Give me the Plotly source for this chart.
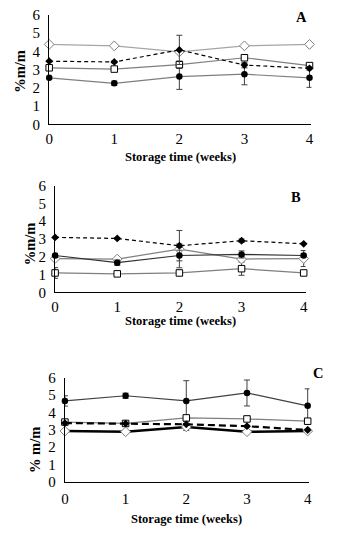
import plotly.graph_objects as go

W, H = 339, 542
weeks = [0, 1, 2, 3, 4]
x_ticks = ["0", "1", "2", "3", "4"]
y_ticks = [0, 1, 2, 3, 4, 5, 6]

# Panel A
A_circle = [2.55, 2.25, 2.62, 2.75, 2.55]
A_circle_err = [0.08, 0.12, 0.70, 0.58, 0.52]
A_dfill = [3.46, 3.42, 4.08, 3.25, 3.07]
A_dfill_err = [0.05, 0.05, 0.80, 0.15, 0.10]
A_square = [3.10, 3.03, 3.27, 3.65, 3.22]
A_square_err = [0.08, 0.08, 0.20, 0.10, 0.10]
A_dopen = [4.38, 4.30, 3.97, 4.30, 4.38]
A_dopen_err = [0.03, 0.03, 0.05, 0.05, 0.03]

# Panel B
B_dfill = [3.09, 3.03, 2.62, 2.90, 2.73]
B_dfill_err = [0.05, 0.05, 0.10, 0.10, 0.05]
B_circle = [2.07, 1.67, 2.07, 2.13, 2.07]
B_circle_err = [0.12, 0.15, 0.30, 0.20, 0.10]
B_dopen = [1.90, 1.87, 2.43, 1.87, 1.90]
B_dopen_err = [0.05, 0.05, 1.05, 0.10, 0.45]
B_square = [1.09, 1.04, 1.09, 1.33, 1.09]
B_square_err = [0.30, 0.05, 0.10, 0.37, 0.10]

# Panel C
C_circle = [4.66, 4.96, 4.66, 5.12, 4.38]
C_circle_err = [0.30, 0.15, 1.17, 0.75, 0.98]
C_square = [3.44, 3.36, 3.68, 3.62, 3.49]
C_square_err = [0.05, 0.05, 0.05, 0.05, 0.05]
C_dfill = [3.38, 3.35, 3.31, 3.20, 2.98]
C_dfill_err = [0.05, 0.05, 0.05, 0.05, 0.05]
C_dopen = [2.92, 2.88, 3.16, 2.88, 2.92]
C_dopen_err = [0.05, 0.05, 0.20, 0.05, 0.05]

FONT = "Liberation Serif"
GRAY = "#7f7f7f"
LGRAY = "#a6a6a6"

fig = go.Figure()


def add(xa, ya, y, err, kind, line_color, line_width=1.2, dash="solid", err_color="#404040"):
    if kind == "circle":
        marker = dict(symbol="circle", size=6.5, color="black", line=dict(color="black", width=0))
    elif kind == "dfill":
        marker = dict(symbol="diamond", size=6, color="black", line=dict(color="black", width=0))
    elif kind == "square":
        marker = dict(symbol="square", size=6.5, color="white", line=dict(color="black", width=1))
    else:
        marker = dict(symbol="diamond", size=7.5, color="white", line=dict(color=GRAY, width=1))
    fig.add_trace(go.Scatter(
        x=weeks, y=y, xaxis=xa, yaxis=ya, mode="lines+markers",
        line=dict(color=line_color, width=line_width, dash=dash),
        marker=marker,
        error_y=dict(type="data", array=err, visible=True, color=err_color, thickness=1, width=3),
        showlegend=False, cliponaxis=False,
    ))


# A
add("x", "y", A_circle, A_circle_err, "circle", GRAY)
add("x", "y", A_square, A_square_err, "square", GRAY)
add("x", "y", A_dopen, A_dopen_err, "dopen", LGRAY)
add("x", "y", A_dfill, A_dfill_err, "dfill", "black", 1.2, "4px,3px")
# B
add("x2", "y2", B_square, B_square_err, "square", GRAY)
add("x2", "y2", B_dopen, B_dopen_err, "dopen", GRAY)
add("x2", "y2", B_circle, B_circle_err, "circle", "#303030")
add("x2", "y2", B_dfill, B_dfill_err, "dfill", "black", 1.2, "4px,3px")
# C
add("x3", "y3", C_circle, C_circle_err, "circle", "#404040")
add("x3", "y3", C_square, C_square_err, "square", GRAY)
add("x3", "y3", C_dopen, C_dopen_err, "dopen", "black", 2.5)
add("x3", "y3", C_dfill, C_dfill_err, "dfill", "black", 2.2, "7px,4px")


def px_x(p):
    return p / W


def px_y(p):
    return 1 - p / H


panels = [
    # (x suffix, left px, right px, top px, bottom px, x label standoff)
    ("", 46, 313, 7, 120, 0),
    ("2", 52, 307, 183, 293, 0),
    ("3", 62, 311, 381, 488, 3),
]
tickfont = dict(family=FONT, size=15, color="black")
for suf, l, r, t, b, xs in panels:
    fig.update_layout(**{
        "xaxis" + suf: dict(
            domain=[px_x(l), px_x(r)], range=[0, 4.03], anchor="y" + suf,
            tickvals=weeks, ticktext=x_ticks, showgrid=False, zeroline=False,
            showline=True, linecolor="black", linewidth=1.3, ticks="",
            tickfont=tickfont, fixedrange=True, ticklabelstandoff=xs,
        ),
        "yaxis" + suf: dict(
            domain=[px_y(b), px_y(t)], range=[0, 6], anchor="x" + suf,
            tickvals=y_ticks, showgrid=False, zeroline=False,
            showline=True, linecolor="black", linewidth=1.3, ticks="",
            tickfont=tickfont, fixedrange=True, ticklabelstandoff=5,
        ),
    })

annos = []
title_font = dict(family=FONT, size=12.5, color="black")
# x titles
for ypx, xc in [(154, 180), (323, 180), (527, 186)]:
    annos.append(dict(text="<b>Storage time (weeks)</b>", x=px_x(xc), y=px_y(ypx),
                      xref="paper", yref="paper", showarrow=False, font=title_font,
                      xanchor="center", yanchor="middle"))
# y titles
for txt, xpx, ypx in [("<b>%m/m</b>", 16, 65), ("<b>%m/m</b>", 26, 243), ("<b>% m/m</b>", 31, 455)]:
    annos.append(dict(text=txt, x=px_x(xpx), y=px_y(ypx), xref="paper", yref="paper",
                      showarrow=False, font=dict(family=FONT, size=14.5, color="black"),
                      textangle=-90, xanchor="center", yanchor="middle"))
# panel letters
for txt, xpx, ypx in [("A", 303, 9), ("B", 297, 195), ("C", 320, 376)]:
    annos.append(dict(text="<b>" + txt + "</b>", x=px_x(xpx), y=px_y(ypx), xref="paper", yref="paper",
                      showarrow=False, font=dict(family=FONT, size=14.5, color="black"),
                      xanchor="center", yanchor="middle"))

fig.update_layout(
    width=W, height=H, margin=dict(l=0, r=0, t=0, b=0),
    paper_bgcolor="white", plot_bgcolor="white",
    annotations=annos, showlegend=False,
)

fig.write_html(
    "out.html",
    config={"displayModeBar": False},
    post_script="document.body.style.margin='0';document.body.style.overflow='hidden';",
)
